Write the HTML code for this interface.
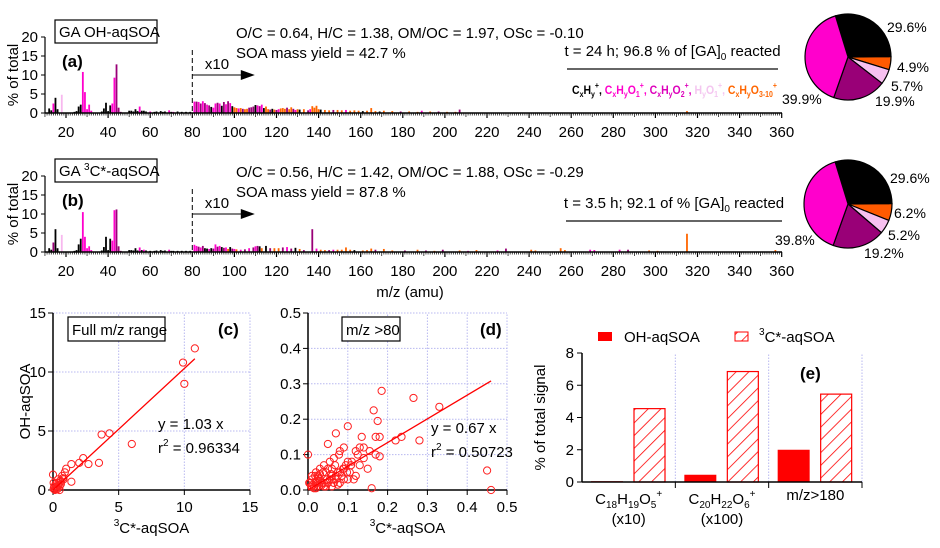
<!DOCTYPE html>
<html><head><meta charset="utf-8"><style>
body{margin:0;background:#fff}
svg{display:block;font-family:"Liberation Sans",Arial,sans-serif}
</style></head><body>
<svg id="fig" width="940" height="548" viewBox="0 0 940 548">
<defs>
<pattern id="hatch" width="9" height="9" patternUnits="userSpaceOnUse" patternTransform="rotate(45)"><rect width="9" height="9" fill="#fff"/><line x1="0" y1="0" x2="0" y2="9" stroke="#ff0000" stroke-width="1.6"/></pattern>
</defs>
<g id="gA"></g>
<g id="gB"></g>
<g id="gC"></g>
<g id="gD"></g>
<g id="gE"></g>
</svg>
<script>
// ---------- Data (peaks: [m/z, % of total (displayed), ion family]) ----------
const specA_peaks = [
 [12,1.2,'k'],[13,0.7,'k'],[14,2.5,'m'],[15,4,'k'],[16,1,'k'],[18,4.8,'l'],[24,0.3,'k'],[25,0.5,'k'],[26,1.7,'k'],[27,2.2,'k'],
 [28,10.8,'m'],[29,5.5,'m'],[30,1,'m'],[31,2.2,'m'],[32,0.6,'m'],[37,0.4,'k'],[38,1.2,'k'],[39,2.7,'k'],[40,0.5,'k'],[41,2,'k'],
 [42,2.5,'m'],[43,9.3,'m'],[44,12.8,'p'],[45,1.4,'p'],[46,0.3,'p'],[50,0.6,'k'],[51,0.6,'k'],[52,0.4,'k'],[53,1,'k'],[54,0.5,'k'],
 [55,1.7,'m'],[56,0.6,'k'],[57,0.6,'k'],[58,0.4,'k'],[60,0.4,'m'],[62,0.3,'k'],[63,0.4,'k'],[65,0.5,'k'],[66,0.3,'k'],[67,0.4,'k'],
 [69,0.7,'m'],[70,0.3,'k'],[71,0.3,'m'],[73,0.4,'k'],[75,0.3,'k'],[77,0.3,'k'],[79,0.3,'k'],
 [81,3,'m'],[82,3,'p'],[83,2.9,'m'],[84,2.5,'p'],[85,3.1,'m'],[86,2.6,'p'],[87,2.2,'m'],[88,2,'p'],[89,1.6,'k'],[90,1.4,'m'],
 [91,2.5,'m'],[92,2.7,'p'],[93,2.5,'m'],[94,1.9,'k'],[95,2.9,'p'],[96,2.3,'m'],[97,3.1,'p'],[98,2.6,'m'],[99,1.8,'k'],[100,1.5,'o'],
 [101,1.3,'o'],[102,1.2,'m'],[103,1.3,'o'],[104,1.1,'p'],[105,1,'o'],[106,1.1,'o'],[107,1.4,'p'],[108,1.5,'p'],[109,1.7,'p'],[110,2.1,'k'],
 [111,2,'m'],[112,1.8,'p'],[113,2.2,'m'],[114,1.3,'k'],[115,1.7,'o'],[116,1,'o'],[117,0.9,'p'],[118,1.1,'k'],[119,0.9,'o'],[120,0.8,'p'],
 [121,1,'m'],[122,1.2,'o'],[123,1.3,'o'],[124,1.1,'o'],[125,1.4,'p'],[126,1,'o'],[127,1.5,'o'],[128,1.1,'p'],[129,0.8,'m'],[130,1,'o'],
 [131,0.9,'k'],[133,1,'o'],[135,0.7,'p'],[136,1,'m'],[137,1.8,'o'],[138,1.4,'o'],[139,1.9,'o'],[140,1,'o'],[141,0.9,'k'],[143,0.8,'o'],
 [145,0.7,'o'],[147,0.8,'p'],[149,0.8,'o'],[151,0.7,'o'],[153,0.8,'m'],[155,0.6,'o'],[157,0.7,'o'],[159,0.6,'o'],[161,0.5,'k'],[163,0.6,'o'],
 [165,1.3,'o'],[167,0.5,'o'],[169,0.4,'k'],[171,0.6,'o'],[175,0.5,'o'],[179,0.4,'p'],[183,0.4,'o'],[187,0.3,'o'],[189,0.6,'m'],[193,0.4,'o'],
 [197,0.4,'p'],[201,0.3,'o'],[205,0.3,'o'],[207,0.9,'p'],[315,0.5,'o']];
const specB_peaks = [
 [12,1,'k'],[13,0.6,'k'],[14,2.5,'p'],[15,6,'k'],[16,1,'k'],[18,4.5,'l'],[24,0.3,'k'],[25,0.5,'k'],[26,2,'k'],[27,3.5,'k'],
 [28,10.5,'m'],[29,4,'m'],[30,1,'m'],[31,1.5,'m'],[32,0.5,'m'],[37,0.4,'k'],[38,1.3,'k'],[39,4,'k'],[40,0.5,'k'],[41,3.5,'k'],
 [42,3,'m'],[43,11,'m'],[44,11.2,'p'],[45,1.5,'p'],[46,0.3,'p'],[50,0.5,'k'],[51,0.5,'k'],[52,0.4,'k'],[53,1,'k'],[54,0.4,'k'],
 [55,1.2,'m'],[56,0.5,'k'],[57,0.6,'m'],[58,0.4,'k'],[60,0.3,'k'],[62,0.3,'k'],[63,0.4,'k'],[65,0.5,'k'],[66,0.3,'k'],[67,0.4,'k'],
 [69,0.6,'m'],[70,0.3,'k'],[71,0.3,'k'],[73,0.3,'k'],[75,0.3,'k'],[77,0.3,'k'],[79,0.3,'k'],
 [81,1.9,'m'],[82,1.6,'m'],[83,1.4,'p'],[84,1.2,'m'],[85,1.6,'p'],[86,1,'k'],[87,0.9,'k'],[88,0.8,'m'],[89,1,'k'],[90,0.9,'p'],
 [91,2,'m'],[92,1.4,'p'],[93,1.6,'m'],[94,1.3,'k'],[95,1.1,'p'],[96,1.2,'m'],[97,0.8,'o'],[98,1.3,'k'],[99,0.9,'p'],[100,0.8,'m'],
 [101,0.7,'o'],[103,0.6,'m'],[105,0.7,'p'],[107,1,'m'],[109,1.2,'p'],[110,1.5,'m'],[111,1.6,'p'],[112,1.5,'k'],[113,1,'o'],[115,1.6,'k'],
 [117,1,'p'],[119,1,'o'],[121,1,'o'],[123,1.2,'p'],[125,1.3,'m'],[127,0.9,'p'],[129,1.1,'k'],[131,0.8,'o'],[133,0.5,'p'],[137,6,'p'],
 [139,0.9,'m'],[141,0.6,'o'],[143,0.5,'o'],[145,0.5,'p'],[147,0.6,'m'],[149,0.6,'o'],[151,0.6,'o'],[153,1.2,'o'],[155,0.6,'o'],[157,0.5,'k'],
 [161,0.4,'o'],[163,0.5,'o'],[165,0.9,'o'],[167,0.6,'p'],[171,0.8,'o'],[175,0.4,'o'],[181,0.4,'p'],[187,0.6,'o'],[191,0.4,'p'],[195,0.3,'o'],
 [199,0.6,'p'],[207,0.4,'o'],[211,0.3,'m'],[215,0.5,'o'],[225,0.4,'m'],[229,0.9,'p'],[241,0.6,'o'],[243,0.4,'o'],[255,1,'o'],[257,0.5,'o'],
 [269,0.6,'m'],[271,0.5,'m'],[283,0.6,'m'],[287,0.6,'p'],[297,0.4,'o'],[301,0.3,'o'],[315,4.8,'o'],[357,0.5,'o']];
const pieA_vals = [29.6,4.9,5.7,19.9,39.9];
const pieB_vals = [29.6,6.2,5.2,19.2,39.8];
const pieLabelsA = ["29.6%","4.9%","5.7%","19.9%","39.9%"];
const pieLabelsB = ["29.6%","6.2%","5.2%","19.2%","39.8%"];
const specTicks = [20,40,60,80,100,120,140,160,180,200,220,240,260,280,300,320,340,360];
const yTicksSpec = [0,5,10,15,20];
const scatC_x = [0,0.05,0.1,0.15,0.2,0.25,0.3,0.35,0.4,0.5,0.55,0.6,0.7,0.8,0.9,0.5,0.3,0.2,0.1,0.6,0.75,0.05,1.0,1.4,1.4,2.0,2.3,2.7,3.5,3.7,4.3,6.0,9.9,10.0,10.8,0.4,0.15];
const scatC_y = [1.3,0.1,0.3,0.05,0.5,0.2,0.6,0.1,0.4,0.3,0.8,0.7,1.2,0.9,1.5,0.0,0.05,0.15,0.25,0.5,1.0,0.6,1.8,2.2,0.7,2.3,2.7,2.2,2.3,4.7,4.8,3.9,10.8,9.0,12.0,0.9,0.0];
const scatD_x = [0,0.005,0.01,0.015,0.02,0.025,0.03,0.035,0.04,0.045,0.05,0.055,0.06,0.065,0.07,0.075,0.08,0.085,0.09,0.095,0.1,0.105,0.11,0.115,0.12,0.125,0.13,0.135,0.14,0.15,0.155,0.16,0.165,0.17,0.175,0.18,0.185,0.22,0.235,0.265,0.28,0.33,0.45,0.46,0.01,0.02,0.03,0.04,0.05,0.06,0.07,0.08,0.09,0.1,0.01,0.02,0.03,0.04,0.05,0.06,0.07,0.08,0.1,0.12,0.03,0.045,0.06,0.075,0.09,0.015,0.025,0.035,0.055,0.065,0.003,0.008,0.012,0.018,0.022,0.028,0.038,0.048,0.058,0.068,0.078,0.088,0.098,0.108,0.13,0.17,0.18,0.14];
const scatD_y = [0.1,0.02,0.03,0.01,0.05,0.04,0.06,0.02,0.07,0.05,0.13,0.08,0.06,0.09,0.16,0.05,0.11,0.04,0.12,0.07,0.18,0.05,0.08,0.03,0.11,0.1,0.07,0.15,0.09,0.06,0.11,0.005,0.225,0.15,0.195,0.15,0.28,0.14,0.15,0.26,0.14,0.235,0.055,0,0.01,0.02,0.03,0.01,0.02,0.03,0.04,0.02,0.06,0.03,0.04,0.005,0.045,0.02,0.06,0.01,0.03,0.05,0.08,0.04,0.025,0.01,0.04,0.015,0.03,0.005,0.035,0.015,0.03,0.02,0.02,0.01,0.015,0.04,0.025,0.012,0.05,0.03,0.045,0.07,0.1,0.06,0.05,0.07,0.12,0.1,0.095,0.12];
const ticksC = [0,5,10,15];
const ticksD = [0,0.1,0.2,0.3,0.4,0.5];
const ticksDLabels = ["0.0","0.1","0.2","0.3","0.4","0.5"];
const barCats = ["C18H19O5","C20H22O6","m/z>180"];
const barOH = [0.05,0.45,2.0];
const barTC = [4.55,6.85,5.45];
const ticksE = [0,2,4,6,8];

// ---------- helpers ----------
const NS="http://www.w3.org/2000/svg";
function el(parent,tag,attrs,text){const e=document.createElementNS(NS,tag);for(const k in attrs)e.setAttribute(k,attrs[k]);if(text!==undefined)e.textContent=text;parent.appendChild(e);return e;}
const COL={k:"#000000",m:"#ff00cc",p:"#990077",l:"#f7b8ee",o:"#ff6600"};
const xS=m=>66+(m-20)*2.105;

function spectrum(g,y0,peaks){
  const yS=v=>y0-v*3.8;
  const bars=el(g,'g',{});
  
  
  peaks.forEach(pk=>{
    const r=el(bars,'rect',{x:xS(pk[0])-0.9,y:yS(pk[1]),width:1.8,height:pk[1]*3.8,fill:COL[pk[2]]});
    
    
  });
  el(g,'line',{x1:45,y1:y0,x2:782,y2:y0,stroke:'#000','stroke-width':1.5});
  el(g,'line',{x1:45,y1:y0,x2:45,y2:yS(20),stroke:'#000','stroke-width':1.2});
  for(let m=10;m<=360;m++){const big=m%20===0,mid=m%10===0;el(g,'line',{x1:xS(m),y1:y0,x2:xS(m),y2:y0+(big?5:mid?4:2.5),stroke:'#000','stroke-width':big?1.2:0.7});}
  specTicks.forEach(t=>{const tx=el(g,'text',{x:xS(t),y:y0+24,'font-size':15,'text-anchor':'middle'},String(t));
    });
  yTicksSpec.forEach(t=>{el(g,'line',{x1:41,y1:yS(t),x2:45,y2:yS(t),stroke:'#000'});
    const tx=el(g,'text',{x:38,y:yS(t)+5,'font-size':15,'text-anchor':'end'},String(t));
    });
  const yt=el(g,'text',{transform:`translate(18,${y0-38}) rotate(-90)`,'font-size':15,'text-anchor':'middle'},'% of total');
  
  el(g,'line',{x1:xS(80),y1:y0-63,x2:xS(80),y2:y0,stroke:'#000','stroke-dasharray':'5,3'});
  el(g,'line',{x1:xS(80),y1:y0-38,x2:xS(104),y2:y0-38,stroke:'#000'});
  el(g,'polygon',{points:`${xS(104)-2},${y0-43} ${xS(104)+12},${y0-38} ${xS(104)-2},${y0-33}`,fill:'#000'});
  el(g,'text',{x:xS(86),y:y0-44,'font-size':15},'x10');
}

function pie(g,cx,cy,r,vals,labels,lpos){
  const cols=["#000000","#ff5a00","#f7c0f0","#990077","#ff00cc"];
  const tot=vals.reduce((a,b)=>a+b,0);
  let a=-17*Math.PI/180;
  vals.forEach((v,i)=>{
    const a2=a+v/tot*2*Math.PI;
    const p=(t)=>[cx+r*Math.sin(t),cy-r*Math.cos(t)];
    const [x1,y1]=p(a),[x2,y2]=p(a2);
    const s=el(g,'path',{d:`M${cx},${cy} L${x1},${y1} A${r},${r} 0 ${a2-a>Math.PI?1:0} 1 ${x2},${y2} Z`,fill:cols[i],stroke:'#000','stroke-width':1.2});
    
    
    a=a2;
  });
  labels.forEach((l,i)=>{const t=el(g,'text',{x:lpos[i][0],y:lpos[i][1],'font-size':14},l);
    });
}

function header(g,y0,box,bw,letter,line1,line2,tline,lx1,lx2,ty){
  el(g,'rect',{x:55,y:y0-93,width:bw,height:23,fill:'#fff',stroke:'#000','stroke-width':1.2});
  el(g,'text',{x:59,y:y0-76,'font-size':15},'').innerHTML=box;
  el(g,'text',{x:62,y:y0-46,'font-size':17,'font-weight':'bold'},letter);
  el(g,'text',{x:236,y:y0-75,'font-size':15},line1);
  el(g,'text',{x:236,y:y0-55,'font-size':15},line2);
  el(g,'text',{x:(lx1+lx2)/2,y:ty,'font-size':15,'text-anchor':'middle'},'').innerHTML=tline;
  el(g,'line',{x1:lx1,y1:ty+13,x2:lx2,y2:ty+13,stroke:'#333','stroke-width':1.6});
}

// Panel A
const gA=document.getElementById('gA');
spectrum(gA,113,specA_peaks);
header(gA,113,'GA OH-aqSOA',102,'(a)','O/C = 0.64, H/C = 1.38, OM/OC = 1.97, OSc = -0.10','SOA mass yield = 42.7 %','t = 24 h; 96.8 % of [GA]<tspan font-size="10" dy="4">0</tspan><tspan dy="-4"> reacted</tspan>',567,778,56);
const leg=el(gA,'text',{x:572,y:94,'font-size':12,'font-weight':'bold',textLength:205,lengthAdjust:'spacingAndGlyphs'},'');

leg.innerHTML='<tspan fill="#000">C<tspan font-size="8" dy="3">x</tspan><tspan dy="-3">H</tspan><tspan font-size="8" dy="3">y</tspan><tspan font-size="8" dy="-9">+</tspan></tspan><tspan dy="6" fill="#000">, </tspan>'+
'<tspan fill="#ff00cc">C<tspan font-size="8" dy="3">x</tspan><tspan dy="-3">H</tspan><tspan font-size="8" dy="3">y</tspan><tspan dy="-3">O</tspan><tspan font-size="8" dy="3">1</tspan><tspan font-size="8" dy="-9">+</tspan><tspan dy="6">, </tspan></tspan>'+
'<tspan fill="#dd00bb">C<tspan font-size="8" dy="3">x</tspan><tspan dy="-3">H</tspan><tspan font-size="8" dy="3">y</tspan><tspan dy="-3">O</tspan><tspan font-size="8" dy="3">2</tspan><tspan font-size="8" dy="-9">+</tspan><tspan dy="6">, </tspan></tspan>'+
'<tspan fill="#f4c6f0">H<tspan font-size="8" dy="3">y</tspan><tspan dy="-3">O</tspan><tspan font-size="8" dy="3">1</tspan><tspan font-size="8" dy="-9">+</tspan><tspan dy="6">, </tspan></tspan>'+
'<tspan fill="#ff6600">C<tspan font-size="8" dy="3">x</tspan><tspan dy="-3">H</tspan><tspan font-size="8" dy="3">y</tspan><tspan dy="-3">O</tspan><tspan font-size="8" dy="3">3-10</tspan><tspan font-size="8" dy="-9">+</tspan></tspan>';
pie(gA,848,57,43,pieA_vals,pieLabelsA,[[887,32],[897,72],[891,91],[875,106],[782,104]]);

// Panel B
const gB=document.getElementById('gB');
spectrum(gB,252,specB_peaks);
header(gB,252,'GA <tspan font-size="10" dy="-6">3</tspan><tspan dy="6">C*-aqSOA</tspan>',102,'(b)','O/C = 0.56, H/C = 1.42, OM/OC = 1.88, OSc = -0.29','SOA mass yield = 87.8 %','t = 3.5 h; 92.1 of % [GA]<tspan font-size="10" dy="4">0</tspan><tspan dy="-4"> reacted</tspan>',566,782,208);
pie(gB,848,204,44,pieB_vals,pieLabelsB,[[890,183],[894,218],[888,240],[864,258],[775,245]]);
const mzt=el(gB,'text',{x:410,y:297,'font-size':15,'text-anchor':'middle'},'m/z (amu)');


// Scatter panels
function scatter(g,x0,x1,y0,y1,xmax,ymax,ticksX,xl,ticksY,yl,xs,ys,slope,box,bx,bw,letter,lx,eq,r2,ex,showYTitle){
  const X=v=>x0+v/xmax*(x1-x0), Y=v=>y0-v/ymax*(y0-y1);
  ticksX.forEach((t,i)=>{if(i>0)el(g,'line',{x1:X(t),y1:y0,x2:X(t),y2:y1,stroke:'#b8b8f0','stroke-dasharray':'1.5,1.5'});
    el(g,'line',{x1:X(t),y1:y0,x2:X(t),y2:y0+5,stroke:'#000'});
    el(g,'text',{x:X(t),y:y0+22,'font-size':15,'text-anchor':'middle'},xl[i]);});
  ticksY.forEach((t,i)=>{if(i>0)el(g,'line',{x1:x0,y1:Y(t),x2:x1,y2:Y(t),stroke:'#b8b8f0','stroke-dasharray':'1.5,1.5'});
    el(g,'line',{x1:x0-5,y1:Y(t),x2:x0,y2:Y(t),stroke:'#000'});
    el(g,'text',{x:x0-7,y:Y(t)+5,'font-size':15,'text-anchor':'end'},yl[i]);});
  el(g,'line',{x1:x0,y1:y0,x2:x1,y2:y0,stroke:'#000','stroke-width':1.5});
  el(g,'line',{x1:x0,y1:y0,x2:x0,y2:y1,stroke:'#000','stroke-width':1.5});
  xs.forEach((v,i)=>{const c=el(g,'circle',{cx:X(v),cy:Y(ys[i]),r:3.6,fill:'none',stroke:'#ff2020','stroke-width':1});
    });
  el(g,'line',{x1:X(0),y1:Y(0),x2:X(ex),y2:Y(ex*slope),stroke:'#ff0000','stroke-width':1.3});
  el(g,'rect',{x:bx,y:317,width:bw,height:24,fill:'#fff',stroke:'#000','stroke-width':1.2});
  el(g,'text',{x:bx+4,y:335,'font-size':15},box);
  el(g,'text',{x:lx,y:335,'font-size':17,'font-weight':'bold'},letter);
  el(g,'text',{x:eq[0],y:eq[1],'font-size':15},'y = '+slope+' x');
  el(g,'text',{x:eq[0],y:eq[1]+24,'font-size':15},'').innerHTML='r<tspan font-size="10" dy="-7">2</tspan><tspan dy="7"> = '+r2+'</tspan>';
  el(g,'text',{x:(x0+x1)/2,y:y0+43,'font-size':15,'text-anchor':'middle'},'').innerHTML='<tspan font-size="10" dy="-7">3</tspan><tspan dy="7">C*-aqSOA</tspan>';
  if(showYTitle) el(g,'text',{transform:`translate(30,${(y0+y1)/2}) rotate(-90)`,'font-size':15,'text-anchor':'middle'},'OH-aqSOA');
}
scatter(document.getElementById('gC'),53,250,490,313,15,15,ticksC,ticksC.map(String),ticksC,ticksC.map(String),scatC_x,scatC_y,1.03,'Full m/z range',68,97,'(c)',218,[158,429],'0.96334',10.8,true);
scatter(document.getElementById('gD'),308,507,490,313,0.5,0.5,ticksD,ticksDLabels,ticksD,ticksDLabels,scatD_x,scatD_y,0.67,'m/z >80',342,58,'(d)',480,[431,433],'0.50723',0.46,false);

// Panel E
const gE=document.getElementById('gE');
const ex0=582,ex1=862,ey0=482,ey1=353;
const EY=v=>ey0-v/8*(ey0-ey1);
const gw=(ex1-ex0)/barCats.length;
for(let i=1;i<=barCats.length;i++){el(gE,'line',{x1:ex0+gw*i,y1:ey0,x2:ex0+gw*i,y2:ey1,stroke:'#b8b8f0','stroke-dasharray':'1.5,1.5'});
  el(gE,'line',{x1:ex0+gw*i,y1:ey0,x2:ex0+gw*i,y2:ey0+6,stroke:'#000'});}
ticksE.forEach(t=>{el(gE,'line',{x1:ex0-5,y1:EY(t),x2:ex0,y2:EY(t),stroke:'#000'});
  el(gE,'text',{x:ex0-8,y:EY(t)+5,'font-size':15,'text-anchor':'end'},String(t));});
barCats.forEach((c,i)=>{
  const gx=ex0+gw*i;
  const b1=el(gE,'rect',{x:gx+9,y:EY(barOH[i]),width:32,height:ey0-EY(barOH[i]),fill:'#ff0000'});
  
  const b2=el(gE,'rect',{x:gx+52,y:EY(barTC[i]),width:31,height:ey0-EY(barTC[i]),fill:'url(#hatch)',stroke:'#ff0000','stroke-width':1.2});
  
});
el(gE,'line',{x1:ex0,y1:ey0,x2:ex1,y2:ey0,stroke:'#000','stroke-width':1.5});
el(gE,'line',{x1:ex0,y1:ey0,x2:ex0,y2:ey1,stroke:'#000','stroke-width':1.5});
el(gE,'text',{x:ex0+gw*0.5,y:504,'font-size':15,'text-anchor':'middle'},'').innerHTML='C<tspan font-size="10" dy="4">18</tspan><tspan dy="-4">H</tspan><tspan font-size="10" dy="4">19</tspan><tspan dy="-4">O</tspan><tspan font-size="10" dy="4">5</tspan><tspan font-size="10" dy="-11">+</tspan>';
el(gE,'text',{x:ex0+gw*0.5,y:524,'font-size':15,'text-anchor':'middle'},'(x10)');
el(gE,'text',{x:ex0+gw*1.5,y:504,'font-size':15,'text-anchor':'middle'},'').innerHTML='C<tspan font-size="10" dy="4">20</tspan><tspan dy="-4">H</tspan><tspan font-size="10" dy="4">22</tspan><tspan dy="-4">O</tspan><tspan font-size="10" dy="4">6</tspan><tspan font-size="10" dy="-11">+</tspan>';
el(gE,'text',{x:ex0+gw*1.5,y:524,'font-size':15,'text-anchor':'middle'},'(x100)');
el(gE,'text',{x:ex0+gw*2.5,y:500,'font-size':15,'text-anchor':'middle'},'m/z>180');
el(gE,'text',{x:800,y:379,'font-size':17,'font-weight':'bold'},'(e)');
el(gE,'text',{transform:`translate(545,${(ey0+ey1)/2}) rotate(-90)`,'font-size':15,'text-anchor':'middle'},'% of total signal');
el(gE,'rect',{x:598,y:332,width:14,height:9,fill:'#ff0000'});
el(gE,'text',{x:624,y:342,'font-size':15},'OH-aqSOA');
el(gE,'rect',{x:735,y:332,width:13,height:9,fill:'url(#hatch)',stroke:'#ff0000'});
el(gE,'text',{x:759,y:342,'font-size':15},'').innerHTML='<tspan font-size="10" dy="-7">3</tspan><tspan dy="7">C*-aqSOA</tspan>';
</script>
</body></html>
